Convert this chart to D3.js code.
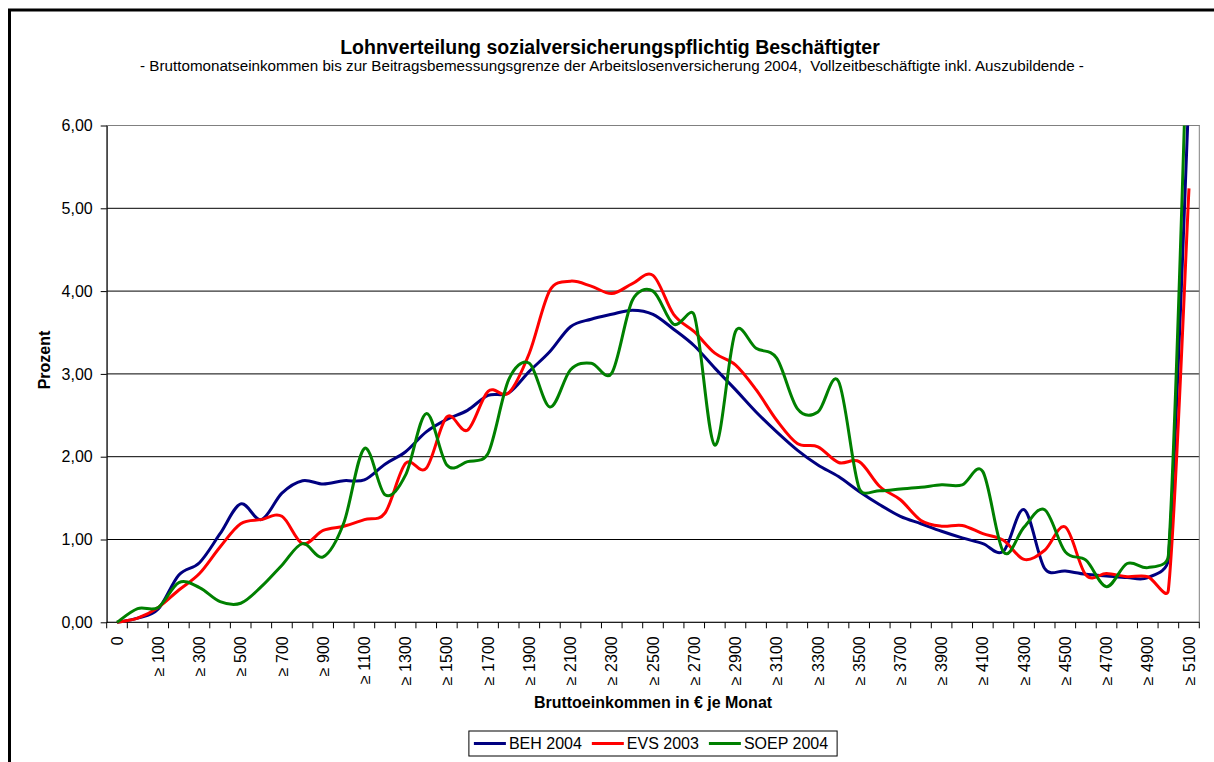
<!DOCTYPE html>
<html>
<head>
<meta charset="utf-8">
<title>Lohnverteilung</title>
<script src="https://cdn.jsdelivr.net/npm/d3@7"></script>
<style>
    body { margin: 0; background: #fff; }
    svg text { font-family: "Liberation Sans", Arial, sans-serif; fill: #000; }
</style>
</head>
<body>
<div id="chart"></div>
<script>
// Kategorien (Bruttoeinkommen in € je Monat), nur jede zweite wird beschriftet
const categories = [
    '0', '> 0', '≥ 100', '≥ 200', '≥ 300', '≥ 400', '≥ 500', '≥ 600', '≥ 700', '≥ 800',
    '≥ 900', '≥ 1000', '≥ 1100', '≥ 1200', '≥ 1300', '≥ 1400', '≥ 1500', '≥ 1600', '≥ 1700', '≥ 1800',
    '≥ 1900', '≥ 2000', '≥ 2100', '≥ 2200', '≥ 2300', '≥ 2400', '≥ 2500', '≥ 2600', '≥ 2700', '≥ 2800',
    '≥ 2900', '≥ 3000', '≥ 3100', '≥ 3200', '≥ 3300', '≥ 3400', '≥ 3500', '≥ 3600', '≥ 3700', '≥ 3800',
    '≥ 3900', '≥ 4000', '≥ 4100', '≥ 4200', '≥ 4300', '≥ 4400', '≥ 4500', '≥ 4600', '≥ 4700', '≥ 4800',
    '≥ 4900', '≥ 5000', '≥ 5100'
];

// Anteile in Prozent
const beh2004 = [
    0.00, 0.05, 0.16, 0.57, 0.72, 1.07, 1.43, 1.24, 1.56, 1.71,
    1.67, 1.71, 1.72, 1.91, 2.06, 2.30, 2.45, 2.56, 2.74, 2.77,
    3.03, 3.27, 3.57, 3.66, 3.72, 3.77, 3.72, 3.54, 3.34, 3.07,
    2.81, 2.54, 2.30, 2.08, 1.90, 1.76, 1.58, 1.42, 1.28, 1.19,
    1.10, 1.02, 0.95, 0.86, 1.36, 0.65, 0.62, 0.58, 0.56, 0.54,
    0.54, 0.77, 6.40
];
const evs2003 = [
    0.00, 0.05, 0.18, 0.39, 0.59, 0.91, 1.19, 1.24, 1.28, 0.95,
    1.11, 1.16, 1.24, 1.32, 1.92, 1.86, 2.48, 2.32, 2.79, 2.77,
    3.25, 4.01, 4.12, 4.06, 3.97, 4.09, 4.19, 3.72, 3.51, 3.25,
    3.11, 2.81, 2.44, 2.16, 2.12, 1.93, 1.94, 1.64, 1.48, 1.23,
    1.16, 1.17, 1.07, 0.99, 0.76, 0.87, 1.15, 0.57, 0.59, 0.55,
    0.55, 0.39, 5.24
];
const soep2004 = [
    0.00, 0.165, 0.18, 0.48, 0.42, 0.25, 0.23, 0.43, 0.69, 0.95,
    0.79, 1.20, 2.10, 1.54, 1.78, 2.52, 1.90, 1.94, 2.04, 2.93,
    3.13, 2.60, 3.05, 3.13, 3.01, 3.89, 4.00, 3.60, 3.71, 2.14,
    3.51, 3.31, 3.19, 2.58, 2.54, 2.91, 1.62, 1.59, 1.61, 1.63,
    1.66, 1.66, 1.82, 0.85, 1.15, 1.36, 0.85, 0.75, 0.43, 0.71,
    0.66, 0.81, 7.80
];

const seriesNames = ['BEH 2004', 'EVS 2003', 'SOEP 2004'];
const seriesColors = ['#000080', '#ff0000', '#008000'];
const yTicks = [0, 1, 2, 3, 4, 5, 6];

const WIDTH = 1214;
const HEIGHT = 762;
const PLOT = { left: 106.7, right: 1199.3, top: 125.5, bottom: 622.3 };
const SMOOTH = 1 / 6;   // Glättungsfaktor wie bei Excel

/**
 * Geglättete Linie im Stil von Excel:
 * Bezier-Kontrollpunkte mit Faktor 1/6, Abstand höchstens halbe Segmentlänge
 */
function ExcelSmooth(context) {
    this._context = context;
}
ExcelSmooth.prototype = {
    areaStart() { this._line = 0; },
    areaEnd() { this._line = NaN; },
    lineStart() { this._points = []; },
    point(px, py) { this._points.push([+px, +py]); },
    lineEnd() {
        let p = this._points;
        let n = p.length;
        let ctx = this._context;
        let dist = (a, b) => Math.hypot(b[0] - a[0], b[1] - a[1]);
        if (!n) return;
        ctx.moveTo(p[0][0], p[0][1]);
        for (let i = 0; i < n - 1; i++) {
            let p0 = p[Math.max(i - 1, 0)];
            let p1 = p[i];
            let p2 = p[i + 1];
            let p3 = p[Math.min(i + 2, n - 1)];
            let d12 = dist(p1, p2);
            let d02 = dist(p0, p2);
            let d13 = dist(p1, p3);
            let f = SMOOTH;
            let g = SMOOTH;
            if (d02 * f > d12 / 2) f = d12 / 2 / d02;
            if (d13 * g > d12 / 2) g = d12 / 2 / d13;
            ctx.bezierCurveTo(
                p1[0] + f * (p2[0] - p0[0]), p1[1] + f * (p2[1] - p0[1]),
                p2[0] - g * (p3[0] - p1[0]), p2[1] - g * (p3[1] - p1[1]),
                p2[0], p2[1]);
        }
    }
};
const curveExcel = context => new ExcelSmooth(context);

let svg = d3.select('#chart').append('svg')
    .attr('width', WIDTH)
    .attr('height', HEIGHT);

// Rahmen des Diagrammbereichs (läuft rechts und unten aus dem Bild)
svg.append('rect')
    .attr('x', 9.5).attr('y', 10)
    .attr('width', 1400).attr('height', 1000)
    .attr('fill', '#fff')
    .attr('stroke', '#000')
    .attr('stroke-width', 3);

// Titel
svg.append('text')
    .attr('x', 610).attr('y', 54)
    .attr('text-anchor', 'middle')
    .attr('font-size', '19.5px')
    .attr('font-weight', 'bold')
    .text('Lohnverteilung sozialversicherungspflichtig Beschäftigter');

svg.append('text')
    .attr('x', 612).attr('y', 71)
    .attr('text-anchor', 'middle')
    .attr('font-size', '15.2px')
    .style('white-space', 'pre')
    .text('- Bruttomonatseinkommen bis zur Beitragsbemessungsgrenze der Arbeitslosenversicherung 2004,  Vollzeitbeschäftigte inkl. Auszubildende -');

let x = d3.scaleBand()
    .domain(categories)
    .range([PLOT.left, PLOT.right])
    .paddingInner(0)
    .paddingOuter(0);

let y = d3.scaleLinear()
    .domain([0, 6])
    .range([PLOT.bottom, PLOT.top]);

let cx = c => x(c) + x.bandwidth() / 2;

// Gitternetzlinien
svg.append('g')
    .selectAll('line')
    .data(yTicks.filter(d => d > 0))
    .join('line')
    .attr('x1', PLOT.left).attr('x2', PLOT.right)
    .attr('y1', d => y(d)).attr('y2', d => y(d))
    .attr('stroke', '#000')
    .attr('stroke-width', 1);

// Rahmen der Zeichnungsfläche
svg.append('rect')
    .attr('x', PLOT.left).attr('y', PLOT.top)
    .attr('width', PLOT.right - PLOT.left)
    .attr('height', PLOT.bottom - PLOT.top)
    .attr('fill', 'none')
    .attr('stroke', '#808080')
    .attr('stroke-width', 1);

// Y-Achse
let yAxis = svg.append('g')
    .attr('transform', `translate(${PLOT.left},0)`)
    .call(d3.axisLeft(y)
        .tickValues(yTicks)
        .tickFormat(d => d3.format('.2f')(d).replace('.', ','))
        .tickSize(6)
        .tickSizeOuter(0)
        .tickPadding(8));
yAxis.select('.domain').attr('stroke', '#000');
yAxis.selectAll('.tick line').attr('stroke', '#000');
yAxis.selectAll('text')
    .attr('font-size', '16px')
    .attr('font-family', '"Liberation Sans", Arial, sans-serif');

// X-Achse: Teilstriche zwischen den Kategorien
let xAxisG = svg.append('g');
xAxisG.append('line')
    .attr('x1', PLOT.left).attr('x2', PLOT.right)
    .attr('y1', PLOT.bottom).attr('y2', PLOT.bottom)
    .attr('stroke', '#000');
xAxisG.selectAll('line.tk')
    .data(categories.map(c => x(c)).concat([PLOT.right]))
    .join('line')
    .attr('class', 'tk')
    .attr('x1', d => d).attr('x2', d => d)
    .attr('y1', PLOT.bottom).attr('y2', PLOT.bottom + 6)
    .attr('stroke', '#000');

// X-Achse: Beschriftung (jede zweite Kategorie)
let xAxis = svg.append('g')
    .attr('transform', `translate(0,${PLOT.bottom})`)
    .call(d3.axisBottom(x)
        .tickValues(categories.filter((c, i) => i % 2 === 0))
        .tickSize(0)
        .tickSizeOuter(0));
xAxis.select('.domain').remove();
xAxis.selectAll('text')
    .attr('font-size', '16px')
    .attr('font-family', '"Liberation Sans", Arial, sans-serif')
    .attr('text-anchor', 'end')
    .attr('transform', 'rotate(-90)')
    .attr('x', -14)
    .attr('y', 0)
    .attr('dy', '0.35em');

// Achsentitel
svg.append('text')
    .attr('x', (PLOT.left + PLOT.right) / 2).attr('y', 708)
    .attr('text-anchor', 'middle')
    .attr('font-size', '16px')
    .attr('font-weight', 'bold')
    .text('Bruttoeinkommen in € je Monat');

svg.append('text')
    .attr('transform', 'translate(50,360) rotate(-90)')
    .attr('text-anchor', 'middle')
    .attr('font-size', '16px')
    .attr('font-weight', 'bold')
    .text('Prozent');

// Linien (geglättet), oben an der Zeichnungsfläche abgeschnitten
svg.append('clipPath')
    .attr('id', 'plotClip')
    .append('rect')
    .attr('x', PLOT.left).attr('y', PLOT.top)
    .attr('width', PLOT.right - PLOT.left)
    .attr('height', PLOT.bottom - PLOT.top + 20);

let line = d3.line()
    .x((d, i) => cx(categories[i]))
    .y(d => y(d))
    .curve(curveExcel);

let seriesData = [beh2004, evs2003, soep2004];

svg.append('g')
    .attr('clip-path', 'url(#plotClip)')
    .selectAll('path')
    .data(seriesData)
    .join('path')
    .attr('d', d => line(d))
    .attr('fill', 'none')
    .attr('stroke', (d, i) => seriesColors[i])
    .attr('stroke-width', 3)
    .attr('stroke-linejoin', 'round');

// Legende
let legend = svg.append('g');
let legendBox = legend.append('rect')
    .attr('fill', '#fff')
    .attr('stroke', '#000')
    .attr('stroke-width', 1);

let lx = 0;
let legendItems = [];
seriesNames.forEach((name, i) => {
    let item = legend.append('g');
    item.append('line')
        .attr('x1', 0).attr('x2', 32)
        .attr('y1', 0).attr('y2', 0)
        .attr('stroke', seriesColors[i])
        .attr('stroke-width', 3);
    let t = item.append('text')
        .attr('x', 35).attr('y', 0)
        .attr('dy', '0.35em')
        .attr('font-size', '16px')
        .text(name);
    let w = 35 + t.node().getComputedTextLength();
    legendItems.push({ item, offset: lx });
    lx += w + 10;
});
let legendWidth = lx - 10 + 5 + 9;
let legendLeft = (PLOT.left + PLOT.right) / 2 - legendWidth / 2;
let legendMid = 743.5;
legendItems.forEach(d => {
    d.item.attr('transform', `translate(${legendLeft + 5 + d.offset},${legendMid})`);
});
legendBox
    .attr('x', legendLeft).attr('y', 731)
    .attr('width', legendWidth).attr('height', 25);
</script>
</body>
</html>
